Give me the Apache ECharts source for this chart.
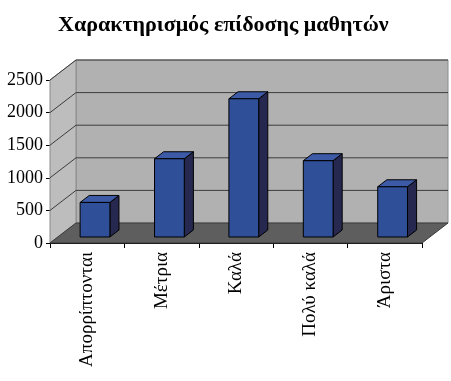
<!DOCTYPE html>
<html>
<head>
<meta charset="utf-8">
<script src="https://cdn.jsdelivr.net/npm/echarts@6/dist/echarts.min.js"></script>
<style>html,body{margin:0;padding:0;background:#fff;}#c{width:451px;height:381px;}</style>
</head>
<body>
<div id="c"></div>
<script>
const titleText = 'Χαρακτηρισμός επίδοσης μαθητών';
const categories = ['Απορρίπτονται', 'Μέτρια', 'Καλά', 'Πολύ καλά', 'Άριστα'];
const values = [530, 1200, 2120, 1170, 770];
const yTicks = [0, 500, 1000, 1500, 2000, 2500];

const DX = 26, DY = -20;       // depth of the 3D box
const F1 = 0.3, F2 = 0.65;     // bar depth position (fraction)
const FONT = '"Liberation Serif", "Times New Roman", serif';

const chart = echarts.init(document.getElementById('c'), null, {renderer: 'canvas'});

function wallsRender(params, api) {
  const cs = params.coordSys;
  const x0 = cs.x, x1 = cs.x + cs.width;
  const yb = api.coord([0, 0])[1];
  const yt = api.coord([0, yTicks[yTicks.length - 1]])[1];
  const children = [];
  children.push({type: 'polygon', shape: {points: [[x0 + DX, yt + DY], [x1 + DX, yt + DY], [x1 + DX, yb + DY], [x0 + DX, yb + DY]]},
    style: {fill: '#b1b1b1', stroke: '#8a8a8a', lineWidth: 1}});
  children.push({type: 'polygon', shape: {points: [[x0, yb], [x0, yt], [x0 + DX, yt + DY], [x0 + DX, yb + DY]]},
    style: {fill: '#bdbdbd', stroke: '#8a8a8a', lineWidth: 1}});
  children.push({type: 'polygon', shape: {points: [[x0, yb], [x1, yb], [x1 + DX, yb + DY], [x0 + DX, yb + DY]]},
    style: {fill: '#5e5e5e', stroke: '#3a3a3a', lineWidth: 1}});
  yTicks.forEach(v => {
    if (v === 0) return;
    const y = api.coord([0, v])[1];
    children.push({type: 'polyline', shape: {points: [[x0, y], [x0 + DX, y + DY], [x1 + DX, y + DY]]},
      style: {stroke: '#3c3c3c', lineWidth: 1, fill: null}});
  });
  return {type: 'group', children: children};
}

function barRender(params, api) {
  const idx = api.value(0);
  const base = api.coord([idx, 0]);
  const top = api.coord([idx, api.value(1)]);
  const band = api.size([1, 0])[0];
  const w = band * 0.4;
  const x0 = base[0] - w / 2 + F1 * DX;
  const by = base[1] + F1 * DY;
  const ty = top[1] + F1 * DY;
  const ddx = (F2 - F1) * DX, ddy = (F2 - F1) * DY;
  const st = {stroke: '#000', lineWidth: 1, lineJoin: 'round'};
  return {type: 'group', children: [
    {type: 'polygon', shape: {points: [[x0 + w, ty], [x0 + w + ddx, ty + ddy], [x0 + w + ddx, by + ddy], [x0 + w, by]]},
      style: Object.assign({fill: '#26284f'}, st)},
    {type: 'polygon', shape: {points: [[x0, ty], [x0 + w, ty], [x0 + w + ddx, ty + ddy], [x0 + ddx, ty + ddy]]},
      style: Object.assign({fill: '#3c5aa5'}, st)},
    {type: 'rect', shape: {x: x0, y: ty, width: w, height: by - ty},
      style: Object.assign({fill: '#2f4f98'}, st)}
  ]};
}

chart.setOption({
  animation: false,
  backgroundColor: '#ffffff',
  title: {
    text: titleText, left: 53, top: 9,
    textStyle: {fontFamily: FONT, fontWeight: 'bold', fontSize: 22, color: '#000'}
  },
  grid: {left: 50, right: 29, top: 80, bottom: 138, containLabel: false},
  xAxis: {
    type: 'category', data: categories, boundaryGap: true,
    axisLine: {show: true, lineStyle: {color: '#000', width: 1}},
    axisTick: {show: true, length: 5, lineStyle: {color: '#000'}},
    axisLabel: {rotate: 90, margin: 9, fontFamily: FONT, fontSize: 19, color: '#000'},
    splitLine: {show: false}
  },
  yAxis: {
    type: 'value', min: 0, max: 2500, interval: 500,
    axisLine: {show: true, lineStyle: {color: '#000', width: 1}},
    axisTick: {show: true, length: 4, lineStyle: {color: '#000'}},
    axisLabel: {margin: 7, fontFamily: FONT, fontSize: 18, color: '#000', formatter: v => String(v)},
    splitLine: {show: false}
  },
  series: [
    {type: 'custom', renderItem: wallsRender, data: [[0, 0]], z: 1, silent: true},
    {type: 'custom', renderItem: barRender, data: values.map((v, i) => [i, v]), z: 2,
      encode: {x: 0, y: 1}}
  ]
});
</script>
</body>
</html>
